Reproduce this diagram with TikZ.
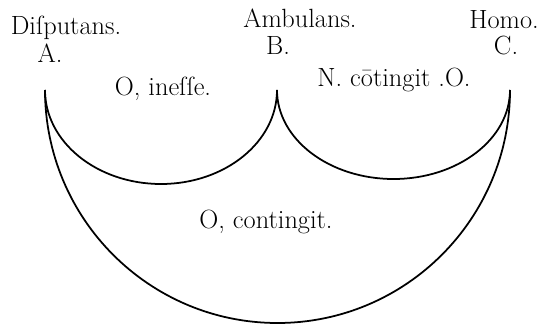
\documentclass[tikz,border=0pt]{standalone}
\usepackage{tikz}
\usetikzlibrary{positioning}

\begin{document}
\begin{tikzpicture}[line width=1pt,
    lbl/.style={font=\fontsize{15}{18}\selectfont, inner sep=0pt, anchor=base}]
    \useasboundingbox (0,0) rectangle (10.94,6.52);

    % Ecken der Bögen
    \coordinate (A) at (0.9,4.72);
    \coordinate (B) at (5.54,4.72);
    \coordinate (C) at (10.2,4.72);

    % Begriffe oben
    \node[lbl] (disputans) at (1.32,5.82) {Diſputans.};
    \node[lbl] (ambulans) at (6.0,5.96) {Ambulans.};
    \node[lbl] (homo) at (10.08,5.94) {Homo.};
    \node[lbl] (labA) at (1.0,5.26) {A.};
    \node[lbl] (labB) at (5.56,5.42) {B.};
    \node[lbl] (labC) at (10.12,5.42) {C.};

    % Bögen A--B, B--C, A--C
    \draw (A) arc[start angle=180, end angle=360, x radius=2.32, y radius=1.88];
    \draw (B) arc[start angle=180, end angle=360, x radius=2.33, y radius=1.78];
    \draw (A) arc[start angle=180, end angle=360, x radius=4.65, y radius=4.66];

    % Beschriftung der Bögen
    \node[lbl] (inesse) at (3.26,4.6) {O, ineſſe.};
    \node[lbl] (cotingit) at (7.88,4.78) {N. cōtingit .O.};
    \node[lbl] (contingit) at (5.32,1.96) {O, contingit.};
\end{tikzpicture}
\end{document}
